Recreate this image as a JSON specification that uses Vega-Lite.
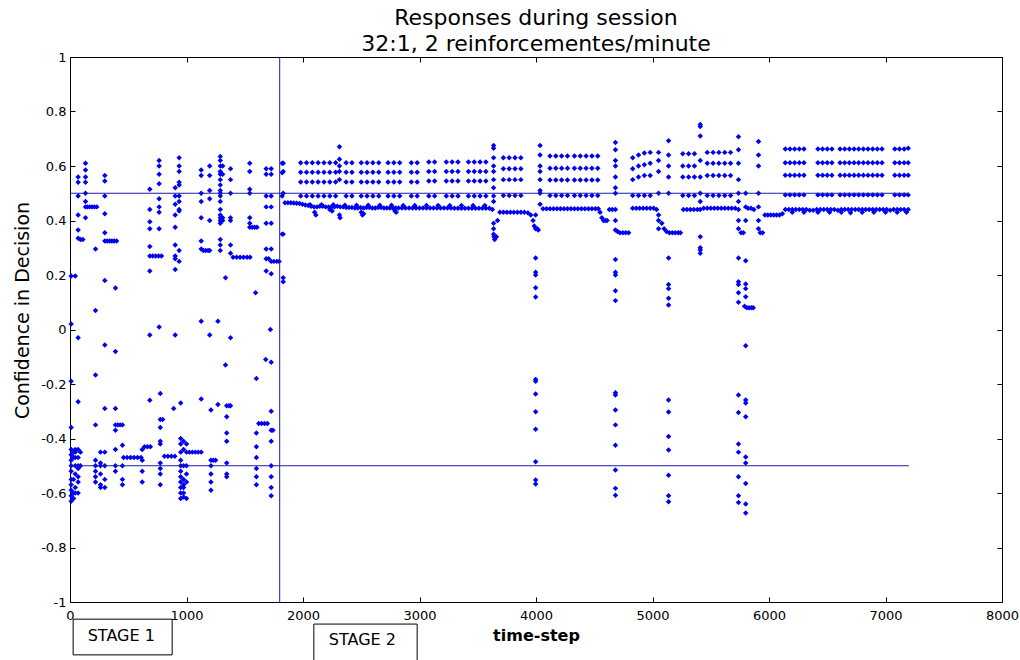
{
"$schema":"https://vega.github.io/schema/vega-lite/v6.json",
"width":932,"height":545,
"autosize":{"type":"none"},
"padding":{"left":70,"top":57,"right":18,"bottom":58},
"background":"white",
"title":{"text":["Responses during session","32:1, 2 reinforcementes/minute"],"font":"DejaVu Sans","fontSize":22,"fontWeight":"normal","color":"black","lineHeight":26,"offset":-5,"anchor":"middle"},
"config":{
 "view":{"stroke":"black","strokeWidth":1},
 "axis":{"grid":false,"domainColor":"black","tickColor":"black","labelColor":"black","labelFont":"DejaVu Sans","labelFontSize":13,"titleFont":"DejaVu Sans","titleColor":"black","tickSize":-5,"labelOverlap":false,"labelFlush":false}
},
"resolve":{"axis":{"x":"independent","y":"independent"}},
"layer":[
{
"data":{"values":[
{"step":10,"conf":0.196},{"step":10,"conf":0.02},{"step":10,"conf":-0.19},{"step":10,"conf":-0.36},{"step":10,"conf":-0.44},{"step":10,"conf":-0.46},{"step":10,"conf":-0.48},{"step":10,"conf":-0.5},{"step":10,"conf":-0.52},{"step":10,"conf":-0.55},{"step":10,"conf":-0.57},{"step":10,"conf":-0.59},{"step":10,"conf":-0.61},{"step":10,"conf":-0.63},
{"step":30,"conf":-0.62},{"step":30,"conf":-0.6},{"step":30,"conf":-0.45},{"step":30,"conf":-0.47},{"step":30,"conf":-0.55},
{"step":45,"conf":0.196},{"step":45,"conf":-0.44},{"step":45,"conf":-0.45},{"step":45,"conf":-0.47},{"step":45,"conf":-0.5},{"step":45,"conf":-0.53},{"step":45,"conf":-0.58},{"step":45,"conf":-0.6},
{"step":70,"conf":0.56},{"step":70,"conf":0.54},{"step":70,"conf":0.49},{"step":70,"conf":0.42},{"step":70,"conf":0.365},{"step":70,"conf":0.335},{"step":70,"conf":-0.03},{"step":70,"conf":-0.265},{"step":70,"conf":-0.44},{"step":70,"conf":-0.47},{"step":70,"conf":-0.5},{"step":70,"conf":-0.51},{"step":70,"conf":-0.54},{"step":70,"conf":-0.56},{"step":70,"conf":-0.6},
{"step":90,"conf":0.33},{"step":90,"conf":-0.45},{"step":90,"conf":-0.5},{"step":110,"conf":0.33},
{"step":133,"conf":0.61},{"step":133,"conf":0.585},{"step":133,"conf":0.56},{"step":133,"conf":0.54},{"step":133,"conf":0.5},{"step":133,"conf":0.47},{"step":133,"conf":0.45},{"step":133,"conf":0.41},
{"step":150,"conf":0.45},{"step":170,"conf":0.45},{"step":190,"conf":0.45},{"step":210,"conf":0.45},{"step":230,"conf":0.45},
{"step":219,"conf":0.295},{"step":219,"conf":0.07},{"step":219,"conf":-0.167},{"step":219,"conf":-0.35},{"step":219,"conf":-0.48},{"step":219,"conf":-0.5},{"step":219,"conf":-0.52},{"step":219,"conf":-0.54},{"step":219,"conf":-0.56},
{"step":262,"conf":-0.45},{"step":262,"conf":-0.49},{"step":262,"conf":-0.5},{"step":262,"conf":-0.53},{"step":262,"conf":-0.57},{"step":262,"conf":-0.58},
{"step":299,"conf":0.565},{"step":299,"conf":0.545},{"step":299,"conf":0.49},{"step":299,"conf":0.425},{"step":299,"conf":0.355},{"step":299,"conf":0.325},{"step":299,"conf":0.18},{"step":299,"conf":-0.057},{"step":299,"conf":-0.29},{"step":299,"conf":-0.45},{"step":299,"conf":-0.5},{"step":299,"conf":-0.55},{"step":299,"conf":-0.58},
{"step":320,"conf":0.325},{"step":340,"conf":0.325},{"step":360,"conf":0.325},{"step":380,"conf":0.325},{"step":400,"conf":0.325},
{"step":390,"conf":0.152},{"step":390,"conf":-0.081},{"step":390,"conf":-0.29},{"step":390,"conf":-0.35},{"step":390,"conf":-0.37},{"step":390,"conf":-0.44},{"step":390,"conf":-0.5},{"step":390,"conf":-0.52},
{"step":410,"conf":-0.35},{"step":430,"conf":-0.35},
{"step":450,"conf":-0.35},{"step":450,"conf":-0.425},{"step":450,"conf":-0.5},{"step":450,"conf":-0.55},{"step":450,"conf":-0.57},
{"step":460,"conf":-0.47},{"step":490,"conf":-0.47},{"step":520,"conf":-0.47},{"step":550,"conf":-0.47},{"step":580,"conf":-0.47},{"step":610,"conf":-0.47},
{"step":620,"conf":-0.44},{"step":620,"conf":-0.48},{"step":620,"conf":-0.52},{"step":620,"conf":-0.56},
{"step":640,"conf":-0.43},{"step":665,"conf":-0.43},{"step":690,"conf":-0.43},
{"step":685,"conf":0.515},{"step":685,"conf":0.44},{"step":685,"conf":0.395},{"step":685,"conf":0.37},{"step":685,"conf":0.305},{"step":685,"conf":0.27},{"step":685,"conf":0.215},{"step":685,"conf":-0.02},{"step":685,"conf":-0.26},
{"step":710,"conf":0.27},{"step":735,"conf":0.27},{"step":760,"conf":0.27},{"step":785,"conf":0.27},
{"step":765,"conf":0.62},{"step":765,"conf":0.6},{"step":765,"conf":0.57},{"step":765,"conf":0.535},{"step":765,"conf":0.48},{"step":765,"conf":0.45},{"step":765,"conf":0.43},{"step":765,"conf":0.37},{"step":765,"conf":0.009},
{"step":775,"conf":-0.235},{"step":775,"conf":-0.33},{"step":775,"conf":-0.36},{"step":775,"conf":-0.41},{"step":775,"conf":-0.42},{"step":775,"conf":-0.49},{"step":775,"conf":-0.51},{"step":775,"conf":-0.53},{"step":775,"conf":-0.57},
{"step":795,"conf":-0.33},
{"step":810,"conf":-0.465},{"step":840,"conf":-0.465},{"step":870,"conf":-0.465},{"step":900,"conf":-0.465},
{"step":890,"conf":-0.29},
{"step":903,"conf":0.52},{"step":903,"conf":0.49},{"step":903,"conf":0.46},{"step":903,"conf":0.42},{"step":903,"conf":0.375},{"step":903,"conf":0.31},{"step":903,"conf":0.27},{"step":903,"conf":0.26},{"step":903,"conf":0.22},{"step":903,"conf":-0.02},
{"step":937,"conf":0.63},{"step":937,"conf":0.6},{"step":937,"conf":0.58},{"step":937,"conf":0.54},{"step":937,"conf":0.53},{"step":937,"conf":0.49},{"step":937,"conf":0.47},{"step":937,"conf":0.44},{"step":937,"conf":0.435},{"step":937,"conf":0.29},{"step":937,"conf":0.25},
{"step":950,"conf":-0.27},{"step":950,"conf":-0.4},{"step":950,"conf":-0.42},{"step":950,"conf":-0.45},{"step":950,"conf":-0.48},{"step":950,"conf":-0.5},{"step":950,"conf":-0.52},{"step":950,"conf":-0.54},{"step":950,"conf":-0.56},{"step":950,"conf":-0.58},{"step":950,"conf":-0.6},{"step":950,"conf":-0.62},
{"step":975,"conf":-0.41},{"step":975,"conf":-0.44},{"step":975,"conf":-0.5},{"step":975,"conf":-0.55},{"step":975,"conf":-0.57},{"step":975,"conf":-0.58},{"step":975,"conf":-0.6},{"step":975,"conf":-0.615},
{"step":1000,"conf":-0.42},{"step":1000,"conf":-0.45},{"step":1000,"conf":-0.5},{"step":1000,"conf":-0.53},{"step":1000,"conf":-0.56},{"step":1000,"conf":-0.62},
{"step":1025,"conf":-0.45},{"step":1050,"conf":-0.45},{"step":1075,"conf":-0.45},{"step":1100,"conf":-0.45},
{"step":1126,"conf":0.585},{"step":1126,"conf":0.565},{"step":1126,"conf":0.5},{"step":1126,"conf":0.47},{"step":1126,"conf":0.41},{"step":1126,"conf":0.325},{"step":1126,"conf":0.295},{"step":1126,"conf":0.03},{"step":1126,"conf":-0.255},{"step":1126,"conf":-0.45},
{"step":1145,"conf":0.29},{"step":1165,"conf":0.29},{"step":1185,"conf":0.29},
{"step":1199,"conf":0.6},{"step":1199,"conf":0.565},{"step":1199,"conf":0.51},{"step":1199,"conf":0.48},{"step":1199,"conf":0.4},{"step":1199,"conf":0.29},{"step":1199,"conf":-0.02},
{"step":1210,"conf":-0.295},{"step":1210,"conf":-0.48},{"step":1210,"conf":-0.5},{"step":1210,"conf":-0.53},{"step":1210,"conf":-0.56},{"step":1210,"conf":-0.59},
{"step":1230,"conf":-0.48},{"step":1250,"conf":-0.48},
{"step":1270,"conf":0.03},{"step":1270,"conf":-0.275},
{"step":1290,"conf":0.635},{"step":1290,"conf":0.62},{"step":1290,"conf":0.6},{"step":1290,"conf":0.58},{"step":1290,"conf":0.57},{"step":1290,"conf":0.55},{"step":1290,"conf":0.53},{"step":1290,"conf":0.51},{"step":1290,"conf":0.5},{"step":1290,"conf":0.49},{"step":1290,"conf":0.47},{"step":1290,"conf":0.44},{"step":1290,"conf":0.42},{"step":1290,"conf":0.41},{"step":1290,"conf":0.4},{"step":1290,"conf":0.39},{"step":1290,"conf":0.33},{"step":1290,"conf":0.31},{"step":1290,"conf":0.29},
{"step":1310,"conf":0.6},{"step":1310,"conf":0.57},{"step":1310,"conf":0.41},{"step":1310,"conf":0.4},
{"step":1335,"conf":0.19},{"step":1335,"conf":-0.13},
{"step":1345,"conf":-0.28},{"step":1345,"conf":-0.32},{"step":1345,"conf":-0.38},{"step":1345,"conf":-0.41},{"step":1345,"conf":-0.49},{"step":1345,"conf":-0.53},{"step":1345,"conf":-0.54},
{"step":1365,"conf":-0.28},
{"step":1378,"conf":0.59},{"step":1378,"conf":0.55},{"step":1378,"conf":0.5},{"step":1378,"conf":0.41},{"step":1378,"conf":0.4},{"step":1378,"conf":0.31},{"step":1378,"conf":0.28},{"step":1378,"conf":-0.03},{"step":1378,"conf":-0.28},
{"step":1400,"conf":0.265},{"step":1430,"conf":0.265},{"step":1460,"conf":0.265},{"step":1490,"conf":0.265},{"step":1520,"conf":0.265},{"step":1545,"conf":0.265},
{"step":1543,"conf":0.61},{"step":1543,"conf":0.58},{"step":1543,"conf":0.515},{"step":1543,"conf":0.5},{"step":1543,"conf":0.41},{"step":1543,"conf":0.39},{"step":1543,"conf":0.375},
{"step":1565,"conf":0.375},{"step":1585,"conf":0.375},{"step":1605,"conf":0.375},
{"step":1593,"conf":0.135},
{"step":1600,"conf":-0.18},{"step":1600,"conf":-0.38},{"step":1600,"conf":-0.43},{"step":1600,"conf":-0.47},{"step":1600,"conf":-0.51},{"step":1600,"conf":-0.54},{"step":1600,"conf":-0.57},
{"step":1620,"conf":-0.345},{"step":1645,"conf":-0.345},{"step":1670,"conf":-0.345},{"step":1695,"conf":-0.345},
{"step":1680,"conf":-0.11},
{"step":1684,"conf":0.59},{"step":1684,"conf":0.57},{"step":1684,"conf":0.49},{"step":1684,"conf":0.45},{"step":1684,"conf":0.39},{"step":1684,"conf":0.295},{"step":1684,"conf":0.26},{"step":1684,"conf":0.215},
{"step":1705,"conf":0.26},{"step":1720,"conf":0},
{"step":1727,"conf":0.59},{"step":1727,"conf":0.57},{"step":1727,"conf":0.49},{"step":1727,"conf":0.45},{"step":1727,"conf":0.39},{"step":1727,"conf":0.295},{"step":1727,"conf":0.25},{"step":1727,"conf":0.205},{"step":1727,"conf":-0.12},{"step":1727,"conf":-0.3},{"step":1727,"conf":-0.37},{"step":1727,"conf":-0.41},{"step":1727,"conf":-0.5},{"step":1727,"conf":-0.54},{"step":1727,"conf":-0.58},{"step":1727,"conf":-0.61},
{"step":1742,"conf":-0.37},
{"step":1750,"conf":0.25},{"step":1775,"conf":0.25},{"step":1795,"conf":0.25},
{"step":1830,"conf":0.61},{"step":1830,"conf":0.58},{"step":1830,"conf":0.5},{"step":1830,"conf":0.35},{"step":1830,"conf":0.19},{"step":1830,"conf":0.175},
{"step":1821,"conf":0.61},{"step":1821,"conf":0.575},{"step":1821,"conf":0.49},{"step":1821,"conf":0.35},
{"step":1845,"conf":0.465},{"step":1870,"conf":0.465},{"step":1895,"conf":0.465},{"step":1920,"conf":0.464},{"step":1945,"conf":0.463},{"step":1970,"conf":0.462},{"step":1995,"conf":0.46},{"step":2020,"conf":0.457},{"step":2045,"conf":0.455},{"step":2070,"conf":0.452},{"step":2095,"conf":0.45},{"step":2120,"conf":0.45},{"step":2145,"conf":0.452},{"step":2170,"conf":0.452},{"step":2195,"conf":0.45},{"step":2220,"conf":0.45},{"step":2245,"conf":0.45},{"step":2270,"conf":0.45},{"step":2295,"conf":0.452},{"step":2320,"conf":0.45},{"step":2345,"conf":0.45},{"step":2370,"conf":0.448},{"step":2395,"conf":0.448},{"step":2420,"conf":0.448},{"step":2445,"conf":0.446},{"step":2470,"conf":0.446},{"step":2495,"conf":0.448},{"step":2520,"conf":0.446},{"step":2545,"conf":0.448},{"step":2570,"conf":0.448},{"step":2595,"conf":0.446},{"step":2620,"conf":0.446},{"step":2645,"conf":0.448},{"step":2670,"conf":0.448},{"step":2695,"conf":0.446},{"step":2720,"conf":0.446},{"step":2745,"conf":0.446},{"step":2770,"conf":0.446},{"step":2795,"conf":0.446},{"step":2820,"conf":0.446},{"step":2850,"conf":0.446},{"step":2880,"conf":0.446},{"step":2910,"conf":0.446},{"step":2940,"conf":0.446},{"step":2970,"conf":0.446},{"step":3000,"conf":0.446},{"step":3030,"conf":0.446},{"step":3060,"conf":0.446},{"step":3090,"conf":0.446},{"step":3120,"conf":0.446},{"step":3150,"conf":0.446},{"step":3180,"conf":0.446},{"step":3210,"conf":0.446},{"step":3240,"conf":0.446},{"step":3270,"conf":0.446},{"step":3300,"conf":0.445},{"step":3330,"conf":0.445},{"step":3360,"conf":0.445},{"step":3390,"conf":0.445},{"step":3420,"conf":0.445},{"step":3450,"conf":0.445},{"step":3480,"conf":0.445},{"step":3510,"conf":0.445},{"step":3540,"conf":0.445},{"step":3570,"conf":0.445},{"step":3600,"conf":0.445},{"step":3625,"conf":0.44},
{"step":2100,"conf":0.43},{"step":2110,"conf":0.42},{"step":2313,"conf":0.42},{"step":2318,"conf":0.41},{"step":2500,"conf":0.43},{"step":2510,"conf":0.42},{"step":2520,"conf":0.425},{"step":2790,"conf":0.435},{"step":2800,"conf":0.43},{"step":2230,"conf":0.44},{"step":2250,"conf":0.435},
{"step":2060,"conf":0.458},{"step":2160,"conf":0.458},{"step":2260,"conf":0.458},{"step":2360,"conf":0.456},{"step":2460,"conf":0.456},{"step":2560,"conf":0.456},{"step":2660,"conf":0.456},{"step":2760,"conf":0.456},{"step":2860,"conf":0.455},{"step":2960,"conf":0.455},{"step":3060,"conf":0.455},{"step":3160,"conf":0.455},{"step":3260,"conf":0.455},{"step":3360,"conf":0.455},{"step":3460,"conf":0.455},{"step":3560,"conf":0.455},
{"step":2313,"conf":0.671},{"step":2313,"conf":0.625},{"step":2313,"conf":0.6},{"step":2313,"conf":0.58},{"step":2313,"conf":0.55},
{"step":3636,"conf":0.675},{"step":3636,"conf":0.665},{"step":3636,"conf":0.63},{"step":3636,"conf":0.6},{"step":3636,"conf":0.58},{"step":3636,"conf":0.55},{"step":3636,"conf":0.52},{"step":3636,"conf":0.49},{"step":3636,"conf":0.47},{"step":3636,"conf":0.39},{"step":3636,"conf":0.37},{"step":3636,"conf":0.35},{"step":3640,"conf":0.34},{"step":3645,"conf":0.33},
{"step":3660,"conf":0.34},{"step":3670,"conf":0.4},
{"step":3690,"conf":0.43},{"step":3720,"conf":0.43},{"step":3750,"conf":0.43},{"step":3780,"conf":0.43},{"step":3810,"conf":0.43},{"step":3840,"conf":0.43},{"step":3870,"conf":0.43},{"step":3900,"conf":0.43},{"step":3930,"conf":0.428},{"step":3955,"conf":0.42},{"step":3975,"conf":0.4},{"step":3985,"conf":0.38},
{"step":3997,"conf":0.42},{"step":3997,"conf":0.37},{"step":3997,"conf":0.262},{"step":3997,"conf":0.21},{"step":3997,"conf":0.2},{"step":3997,"conf":0.153},{"step":3997,"conf":0.119},{"step":3997,"conf":-0.183},{"step":3997,"conf":-0.19},{"step":3997,"conf":-0.237},{"step":3997,"conf":-0.302},{"step":3997,"conf":-0.366},{"step":3997,"conf":-0.485},{"step":3997,"conf":-0.552},{"step":3997,"conf":-0.567},
{"step":4010,"conf":0.37},{"step":4020,"conf":0.365},
{"step":4035,"conf":0.675},{"step":4035,"conf":0.64},{"step":4035,"conf":0.6},{"step":4035,"conf":0.58},{"step":4035,"conf":0.55},{"step":4035,"conf":0.51},{"step":4035,"conf":0.5},{"step":4035,"conf":0.46},
{"step":4060,"conf":0.443},{"step":4090,"conf":0.443},{"step":4120,"conf":0.443},{"step":4150,"conf":0.443},{"step":4180,"conf":0.443},{"step":4210,"conf":0.443},{"step":4240,"conf":0.443},{"step":4270,"conf":0.443},{"step":4300,"conf":0.443},{"step":4330,"conf":0.443},{"step":4360,"conf":0.443},{"step":4390,"conf":0.443},{"step":4420,"conf":0.443},{"step":4450,"conf":0.443},{"step":4480,"conf":0.443},{"step":4510,"conf":0.443},{"step":4535,"conf":0.443},
{"step":4550,"conf":0.43},{"step":4565,"conf":0.41},{"step":4580,"conf":0.4},{"step":4595,"conf":0.4},{"step":4610,"conf":0.4},{"step":4630,"conf":0.44},{"step":4655,"conf":0.44},
{"step":4682,"conf":0.686},{"step":4682,"conf":0.66},{"step":4682,"conf":0.62},{"step":4682,"conf":0.6},{"step":4682,"conf":0.56},{"step":4682,"conf":0.52},{"step":4682,"conf":0.5},{"step":4682,"conf":0.44},{"step":4682,"conf":0.4},{"step":4682,"conf":0.365},{"step":4682,"conf":0.257},{"step":4682,"conf":0.21},{"step":4682,"conf":0.2},{"step":4682,"conf":0.142},{"step":4682,"conf":0.106},{"step":4682,"conf":-0.232},{"step":4682,"conf":-0.24},{"step":4682,"conf":-0.295},{"step":4682,"conf":-0.35},{"step":4682,"conf":-0.425},{"step":4682,"conf":-0.516},{"step":4682,"conf":-0.583},{"step":4682,"conf":-0.608},
{"step":4700,"conf":0.36},{"step":4720,"conf":0.355},{"step":4745,"conf":0.355},{"step":4770,"conf":0.355},{"step":4795,"conf":0.355},
{"step":4830,"conf":0.445},{"step":4860,"conf":0.445},{"step":4890,"conf":0.445},{"step":4920,"conf":0.445},{"step":4950,"conf":0.445},{"step":4980,"conf":0.445},{"step":5010,"conf":0.445},{"step":5035,"conf":0.44},
{"step":5052,"conf":0.65},{"step":5052,"conf":0.62},{"step":5052,"conf":0.58},{"step":5052,"conf":0.5},{"step":5052,"conf":0.42},{"step":5052,"conf":0.4},{"step":5052,"conf":0.37},
{"step":5080,"conf":0.39},{"step":5100,"conf":0.37},{"step":5120,"conf":0.36},
{"step":5138,"conf":0.693},{"step":5138,"conf":0.64},{"step":5138,"conf":0.6},{"step":5138,"conf":0.56},{"step":5138,"conf":0.5},{"step":5138,"conf":0.262},{"step":5138,"conf":0.165},{"step":5138,"conf":0.15},{"step":5138,"conf":0.115},{"step":5138,"conf":0.09},{"step":5138,"conf":-0.259},{"step":5138,"conf":-0.303},{"step":5138,"conf":-0.393},{"step":5138,"conf":-0.442},{"step":5138,"conf":-0.535},{"step":5138,"conf":-0.61},{"step":5138,"conf":-0.632},
{"step":5145,"conf":0.355},{"step":5170,"conf":0.355},{"step":5195,"conf":0.355},{"step":5220,"conf":0.355},{"step":5240,"conf":0.355},
{"step":5265,"conf":0.44},{"step":5295,"conf":0.44},{"step":5325,"conf":0.44},{"step":5355,"conf":0.44},{"step":5385,"conf":0.44},
{"step":5410,"conf":0.752},{"step":5410,"conf":0.745},{"step":5410,"conf":0.71},{"step":5410,"conf":0.62},{"step":5410,"conf":0.56},{"step":5410,"conf":0.5},{"step":5410,"conf":0.47},{"step":5410,"conf":0.44},{"step":5410,"conf":0.34},{"step":5410,"conf":0.3},{"step":5410,"conf":0.292},{"step":5410,"conf":0.28},
{"step":5440,"conf":0.445},{"step":5470,"conf":0.445},{"step":5500,"conf":0.445},{"step":5530,"conf":0.445},{"step":5560,"conf":0.445},{"step":5590,"conf":0.445},{"step":5620,"conf":0.445},{"step":5650,"conf":0.445},{"step":5680,"conf":0.445},{"step":5710,"conf":0.445},
{"step":5738,"conf":0.707},{"step":5738,"conf":0.66},{"step":5738,"conf":0.61},{"step":5738,"conf":0.55},{"step":5738,"conf":0.5},{"step":5738,"conf":0.47},{"step":5738,"conf":0.44},{"step":5738,"conf":0.4},{"step":5738,"conf":0.37},{"step":5738,"conf":0.262},{"step":5738,"conf":0.175},{"step":5738,"conf":0.165},{"step":5738,"conf":0.135},{"step":5738,"conf":0.1},{"step":5738,"conf":-0.24},{"step":5738,"conf":-0.305},{"step":5738,"conf":-0.42},{"step":5738,"conf":-0.45},{"step":5738,"conf":-0.54},{"step":5738,"conf":-0.61},{"step":5738,"conf":-0.635},
{"step":5760,"conf":0.355},{"step":5780,"conf":0.355},
{"step":5800,"conf":0.5},{"step":5800,"conf":0.45},{"step":5800,"conf":0.4},{"step":5800,"conf":0.252},{"step":5800,"conf":0.167},{"step":5800,"conf":0.15},{"step":5800,"conf":0.12},{"step":5800,"conf":-0.06},{"step":5800,"conf":-0.259},{"step":5800,"conf":-0.27},{"step":5800,"conf":-0.32},{"step":5800,"conf":-0.468},{"step":5800,"conf":-0.49},{"step":5800,"conf":-0.565},{"step":5800,"conf":-0.64},{"step":5800,"conf":-0.673},
{"step":5790,"conf":0.085},{"step":5810,"conf":0.08},{"step":5830,"conf":0.08},{"step":5850,"conf":0.08},{"step":5865,"conf":0.08},
{"step":5820,"conf":0.445},{"step":5845,"conf":0.445},{"step":5870,"conf":0.44},
{"step":5910,"conf":0.69},{"step":5910,"conf":0.64},{"step":5910,"conf":0.6},{"step":5910,"conf":0.5},{"step":5910,"conf":0.45},{"step":5910,"conf":0.4},{"step":5910,"conf":0.37},
{"step":5925,"conf":0.355},{"step":5945,"conf":0.355},
{"step":5965,"conf":0.42},{"step":5990,"conf":0.42},{"step":6015,"conf":0.42},{"step":6040,"conf":0.42},{"step":6065,"conf":0.42},{"step":6090,"conf":0.42},{"step":6115,"conf":0.425},
{"step":6140,"conf":0.44},{"step":6170,"conf":0.44},{"step":6200,"conf":0.44},{"step":6230,"conf":0.44},{"step":6260,"conf":0.44},{"step":6290,"conf":0.44},{"step":6320,"conf":0.44},{"step":6350,"conf":0.438},{"step":6380,"conf":0.438},{"step":6410,"conf":0.44},{"step":6440,"conf":0.44},{"step":6470,"conf":0.44},{"step":6500,"conf":0.44},{"step":6530,"conf":0.44},{"step":6560,"conf":0.44},{"step":6590,"conf":0.438},{"step":6620,"conf":0.44},{"step":6650,"conf":0.44},{"step":6680,"conf":0.44},{"step":6710,"conf":0.44},{"step":6740,"conf":0.44},{"step":6770,"conf":0.44},{"step":6800,"conf":0.44},{"step":6830,"conf":0.44},{"step":6860,"conf":0.44},{"step":6890,"conf":0.44},{"step":6920,"conf":0.44},{"step":6950,"conf":0.44},{"step":6980,"conf":0.44},{"step":7010,"conf":0.44},{"step":7040,"conf":0.438},{"step":7070,"conf":0.44},{"step":7100,"conf":0.44},{"step":7130,"conf":0.44},{"step":7160,"conf":0.44},{"step":7195,"conf":0.44},
{"step":6200,"conf":0.43},{"step":6300,"conf":0.43},{"step":6420,"conf":0.43},{"step":6520,"conf":0.43},{"step":6620,"conf":0.43},{"step":6700,"conf":0.428},{"step":6800,"conf":0.43},{"step":6900,"conf":0.43},{"step":7000,"conf":0.43},{"step":7100,"conf":0.43},{"step":7180,"conf":0.43},
{"step":1980,"conf":0.612},{"step":1980,"conf":0.577},{"step":1980,"conf":0.541},{"step":1980,"conf":0.49},
{"step":2030,"conf":0.612},{"step":2030,"conf":0.577},{"step":2030,"conf":0.541},{"step":2030,"conf":0.49},
{"step":2080,"conf":0.612},{"step":2080,"conf":0.577},{"step":2080,"conf":0.541},{"step":2080,"conf":0.49},
{"step":2130,"conf":0.612},{"step":2130,"conf":0.577},{"step":2130,"conf":0.541},{"step":2130,"conf":0.49},
{"step":2180,"conf":0.612},{"step":2180,"conf":0.577},{"step":2180,"conf":0.541},{"step":2180,"conf":0.49},
{"step":2230,"conf":0.612},{"step":2230,"conf":0.577},{"step":2230,"conf":0.541},{"step":2230,"conf":0.49},
{"step":2280,"conf":0.612},{"step":2280,"conf":0.577},{"step":2280,"conf":0.541},{"step":2280,"conf":0.49},
{"step":2370,"conf":0.612},{"step":2370,"conf":0.577},{"step":2370,"conf":0.541},{"step":2370,"conf":0.49},
{"step":2420,"conf":0.612},{"step":2420,"conf":0.577},{"step":2420,"conf":0.541},{"step":2420,"conf":0.49},
{"step":2500,"conf":0.612},{"step":2500,"conf":0.577},{"step":2500,"conf":0.541},{"step":2500,"conf":0.49},
{"step":2550,"conf":0.612},{"step":2550,"conf":0.577},{"step":2550,"conf":0.541},{"step":2550,"conf":0.49},
{"step":2600,"conf":0.612},{"step":2600,"conf":0.577},{"step":2600,"conf":0.541},{"step":2600,"conf":0.49},
{"step":2650,"conf":0.612},{"step":2650,"conf":0.577},{"step":2650,"conf":0.541},{"step":2650,"conf":0.49},
{"step":2730,"conf":0.612},{"step":2730,"conf":0.577},{"step":2730,"conf":0.541},{"step":2730,"conf":0.49},
{"step":2780,"conf":0.612},{"step":2780,"conf":0.577},{"step":2780,"conf":0.541},{"step":2780,"conf":0.49},
{"step":2830,"conf":0.612},{"step":2830,"conf":0.577},{"step":2830,"conf":0.541},{"step":2830,"conf":0.49},
{"step":2930,"conf":0.612},{"step":2930,"conf":0.577},{"step":2930,"conf":0.541},{"step":2930,"conf":0.49},
{"step":2980,"conf":0.612},{"step":2980,"conf":0.577},{"step":2980,"conf":0.541},{"step":2980,"conf":0.49},
{"step":3080,"conf":0.615},{"step":3080,"conf":0.58},{"step":3080,"conf":0.545},{"step":3080,"conf":0.49},
{"step":3130,"conf":0.615},{"step":3130,"conf":0.58},{"step":3130,"conf":0.545},{"step":3130,"conf":0.49},
{"step":3230,"conf":0.615},{"step":3230,"conf":0.58},{"step":3230,"conf":0.545},{"step":3230,"conf":0.49},
{"step":3280,"conf":0.615},{"step":3280,"conf":0.58},{"step":3280,"conf":0.545},{"step":3280,"conf":0.49},
{"step":3330,"conf":0.615},{"step":3330,"conf":0.58},{"step":3330,"conf":0.545},{"step":3330,"conf":0.49},
{"step":3420,"conf":0.615},{"step":3420,"conf":0.58},{"step":3420,"conf":0.545},{"step":3420,"conf":0.49},
{"step":3470,"conf":0.615},{"step":3470,"conf":0.58},{"step":3470,"conf":0.545},{"step":3470,"conf":0.49},
{"step":3520,"conf":0.615},{"step":3520,"conf":0.58},{"step":3520,"conf":0.545},{"step":3520,"conf":0.49},
{"step":3570,"conf":0.615},{"step":3570,"conf":0.58},{"step":3570,"conf":0.545},{"step":3570,"conf":0.49},
{"step":3720,"conf":0.63},{"step":3720,"conf":0.59},{"step":3720,"conf":0.55},{"step":3720,"conf":0.492},
{"step":3770,"conf":0.63},{"step":3770,"conf":0.59},{"step":3770,"conf":0.55},{"step":3770,"conf":0.492},
{"step":3820,"conf":0.63},{"step":3820,"conf":0.59},{"step":3820,"conf":0.55},{"step":3820,"conf":0.492},
{"step":3870,"conf":0.63},{"step":3870,"conf":0.59},{"step":3870,"conf":0.55},{"step":3870,"conf":0.492},
{"step":4120,"conf":0.637},{"step":4120,"conf":0.592},{"step":4120,"conf":0.549},{"step":4120,"conf":0.492},
{"step":4170,"conf":0.637},{"step":4170,"conf":0.592},{"step":4170,"conf":0.549},{"step":4170,"conf":0.492},
{"step":4220,"conf":0.637},{"step":4220,"conf":0.592},{"step":4220,"conf":0.549},{"step":4220,"conf":0.492},
{"step":4270,"conf":0.637},{"step":4270,"conf":0.592},{"step":4270,"conf":0.549},{"step":4270,"conf":0.492},
{"step":4330,"conf":0.637},{"step":4330,"conf":0.592},{"step":4330,"conf":0.549},{"step":4330,"conf":0.492},
{"step":4380,"conf":0.637},{"step":4380,"conf":0.592},{"step":4380,"conf":0.549},{"step":4380,"conf":0.492},
{"step":4430,"conf":0.637},{"step":4430,"conf":0.592},{"step":4430,"conf":0.549},{"step":4430,"conf":0.492},
{"step":4480,"conf":0.637},{"step":4480,"conf":0.592},{"step":4480,"conf":0.549},{"step":4480,"conf":0.492},
{"step":4530,"conf":0.637},{"step":4530,"conf":0.592},{"step":4530,"conf":0.549},{"step":4530,"conf":0.492},
{"step":4830,"conf":0.63},{"step":4830,"conf":0.59},{"step":4830,"conf":0.55},{"step":4830,"conf":0.492},
{"step":4880,"conf":0.64},{"step":4880,"conf":0.6},{"step":4880,"conf":0.56},{"step":4880,"conf":0.492},
{"step":4930,"conf":0.648},{"step":4930,"conf":0.605},{"step":4930,"conf":0.565},{"step":4930,"conf":0.492},
{"step":4980,"conf":0.65},{"step":4980,"conf":0.61},{"step":4980,"conf":0.565},{"step":4980,"conf":0.492},
{"step":5260,"conf":0.645},{"step":5260,"conf":0.6},{"step":5260,"conf":0.56},{"step":5260,"conf":0.492},
{"step":5310,"conf":0.645},{"step":5310,"conf":0.6},{"step":5310,"conf":0.56},{"step":5310,"conf":0.492},
{"step":5360,"conf":0.645},{"step":5360,"conf":0.6},{"step":5360,"conf":0.56},{"step":5360,"conf":0.492},
{"step":5470,"conf":0.65},{"step":5470,"conf":0.61},{"step":5470,"conf":0.565},{"step":5470,"conf":0.492},
{"step":5520,"conf":0.65},{"step":5520,"conf":0.61},{"step":5520,"conf":0.565},{"step":5520,"conf":0.492},
{"step":5570,"conf":0.65},{"step":5570,"conf":0.61},{"step":5570,"conf":0.565},{"step":5570,"conf":0.492},
{"step":5620,"conf":0.65},{"step":5620,"conf":0.61},{"step":5620,"conf":0.565},{"step":5620,"conf":0.492},
{"step":5670,"conf":0.65},{"step":5670,"conf":0.61},{"step":5670,"conf":0.565},{"step":5670,"conf":0.492},
{"step":6140,"conf":0.662},{"step":6140,"conf":0.612},{"step":6140,"conf":0.566},{"step":6140,"conf":0.494},
{"step":6180,"conf":0.662},{"step":6180,"conf":0.612},{"step":6180,"conf":0.566},{"step":6180,"conf":0.494},
{"step":6220,"conf":0.662},{"step":6220,"conf":0.612},{"step":6220,"conf":0.566},{"step":6220,"conf":0.494},
{"step":6260,"conf":0.662},{"step":6260,"conf":0.612},{"step":6260,"conf":0.566},{"step":6260,"conf":0.494},
{"step":6300,"conf":0.662},{"step":6300,"conf":0.612},{"step":6300,"conf":0.566},{"step":6300,"conf":0.494},
{"step":6420,"conf":0.662},{"step":6420,"conf":0.612},{"step":6420,"conf":0.566},{"step":6420,"conf":0.494},
{"step":6460,"conf":0.662},{"step":6460,"conf":0.612},{"step":6460,"conf":0.566},{"step":6460,"conf":0.494},
{"step":6500,"conf":0.662},{"step":6500,"conf":0.612},{"step":6500,"conf":0.566},{"step":6500,"conf":0.494},
{"step":6540,"conf":0.662},{"step":6540,"conf":0.612},{"step":6540,"conf":0.566},{"step":6540,"conf":0.494},
{"step":6610,"conf":0.662},{"step":6610,"conf":0.612},{"step":6610,"conf":0.566},{"step":6610,"conf":0.494},
{"step":6650,"conf":0.662},{"step":6650,"conf":0.612},{"step":6650,"conf":0.566},{"step":6650,"conf":0.494},
{"step":6690,"conf":0.662},{"step":6690,"conf":0.612},{"step":6690,"conf":0.566},{"step":6690,"conf":0.494},
{"step":6730,"conf":0.662},{"step":6730,"conf":0.612},{"step":6730,"conf":0.566},{"step":6730,"conf":0.494},
{"step":6770,"conf":0.662},{"step":6770,"conf":0.612},{"step":6770,"conf":0.566},{"step":6770,"conf":0.494},
{"step":6810,"conf":0.662},{"step":6810,"conf":0.612},{"step":6810,"conf":0.566},{"step":6810,"conf":0.494},
{"step":6850,"conf":0.662},{"step":6850,"conf":0.612},{"step":6850,"conf":0.566},{"step":6850,"conf":0.494},
{"step":6890,"conf":0.662},{"step":6890,"conf":0.612},{"step":6890,"conf":0.566},{"step":6890,"conf":0.494},
{"step":6930,"conf":0.662},{"step":6930,"conf":0.612},{"step":6930,"conf":0.566},{"step":6930,"conf":0.494},
{"step":6970,"conf":0.662},{"step":6970,"conf":0.612},{"step":6970,"conf":0.566},{"step":6970,"conf":0.494},
{"step":7080,"conf":0.662},{"step":7080,"conf":0.612},{"step":7080,"conf":0.566},{"step":7080,"conf":0.494},
{"step":7120,"conf":0.662},{"step":7120,"conf":0.612},{"step":7120,"conf":0.566},{"step":7120,"conf":0.494},
{"step":7160,"conf":0.662},{"step":7160,"conf":0.612},{"step":7160,"conf":0.566},{"step":7160,"conf":0.494},
{"step":7195,"conf":0.665},{"step":7195,"conf":0.612},{"step":7195,"conf":0.566},{"step":7195,"conf":0.494}
]},
"mark":{"type":"point","shape":"diamond","filled":true,"size":30,"color":"#0000f2","opacity":1},
"encoding":{
 "x":{"field":"step","type":"quantitative","scale":{"domain":[0,8000],"nice":false,"zero":false},
   "axis":{"orient":"bottom","values":[0,1000,2000,3000,4000,5000,6000,7000,8000],"format":"d","labelPadding":12,
   "title":"time-step","titleFontSize":16,"titleFontWeight":"bold","titlePadding":5}},
 "y":{"field":"conf","type":"quantitative","scale":{"domain":[-1,1],"nice":false,"zero":false},
   "axis":{"orient":"left","values":[-1,-0.8,-0.6,-0.4,-0.2,0,0.2,0.4,0.6,0.8,1],"labelExpr":"replace(format(datum.value,'~g'),'−','-')","labelPadding":9,
   "title":"Confidence in Decision","titleFontSize":19,"titleFontWeight":"normal","titlePadding":8,"titleY":253}}
}
},
{
"data":{"values":[{"step":0,"step2":7200,"conf":0.5},{"step":0,"step2":7200,"conf":-0.5}]},
"mark":{"type":"rule","color":"#1c1caa","strokeWidth":1},
"encoding":{
 "x":{"field":"step","type":"quantitative","axis":{"orient":"top","values":[0,1000,2000,3000,4000,5000,6000,7000,8000],"labels":false,"title":null,"domain":false}},
 "x2":{"field":"step2"},
 "y":{"field":"conf","type":"quantitative","axis":{"orient":"right","values":[-1,-0.8,-0.6,-0.4,-0.2,0,0.2,0.4,0.6,0.8,1],"labels":false,"title":null,"domain":false}}
}
},
{
"data":{"values":[{"step":1800,"conf":-1,"conf2":1}]},
"mark":{"type":"rule","color":"#1c1caa","strokeWidth":1},
"encoding":{
 "x":{"field":"step","type":"quantitative","axis":null},
 "y":{"field":"conf","type":"quantitative","axis":null},
 "y2":{"field":"conf2"}
}
},
{
"data":{"values":[{"label":"STAGE 1"}]},
"mark":{"type":"rect","fill":"white","stroke":"black","strokeWidth":1},
"encoding":{
 "x":{"datum":27,"type":"quantitative","axis":null},"x2":{"datum":877},
 "y":{"datum":-1.063,"type":"quantitative","axis":null},"y2":{"datum":-1.194}
}
},
{
"data":{"values":[{"label":"STAGE 2"}]},
"mark":{"type":"rect","fill":"white","stroke":"black","strokeWidth":1},
"encoding":{
 "x":{"datum":2093,"type":"quantitative","axis":null},"x2":{"datum":2980},
 "y":{"datum":-1.081,"type":"quantitative","axis":null},"y2":{"datum":-1.26}
}
},
{
"data":{"values":[{"label":"STAGE 1"}]},
"mark":{"type":"text","font":"DejaVu Sans","fontSize":16,"color":"black","align":"center","baseline":"middle"},
"encoding":{
 "x":{"datum":440,"type":"quantitative","axis":null},
 "y":{"datum":-1.126,"type":"quantitative","axis":null},
 "text":{"field":"label"}
}
},
{
"data":{"values":[{"label":"STAGE 2"}]},
"mark":{"type":"text","font":"DejaVu Sans","fontSize":16,"color":"black","align":"center","baseline":"middle"},
"encoding":{
 "x":{"datum":2510,"type":"quantitative","axis":null},
 "y":{"datum":-1.14,"type":"quantitative","axis":null},
 "text":{"field":"label"}
}
}
]
}
